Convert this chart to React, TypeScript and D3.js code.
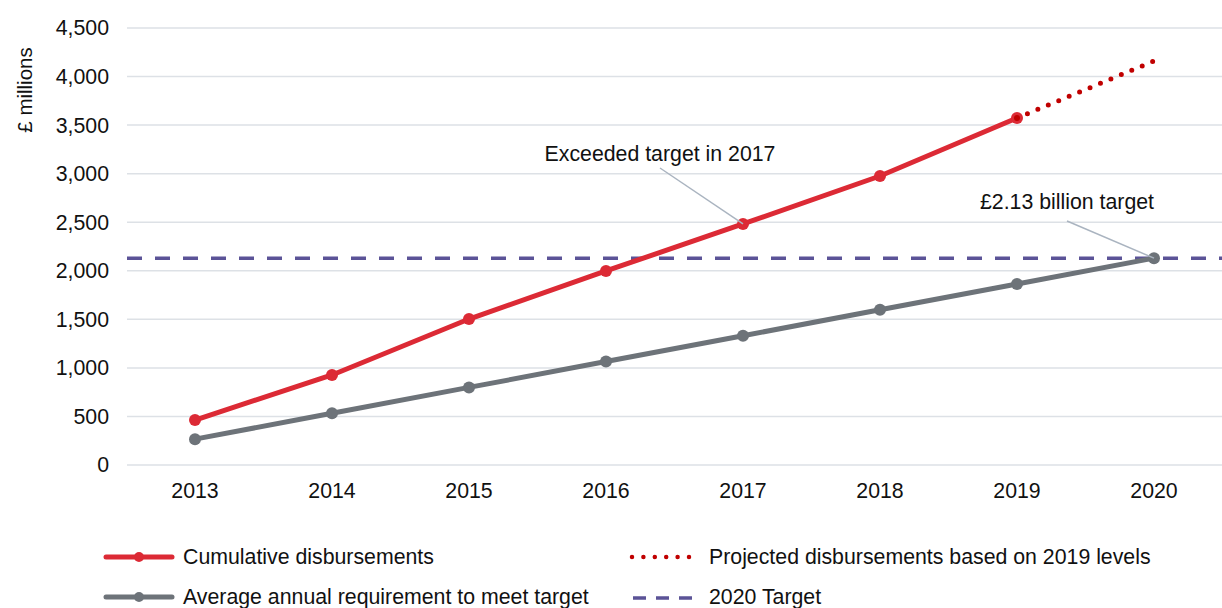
import React from "react";
import * as d3 from "d3";

const years = ["2013", "2014", "2015", "2016", "2017", "2018", "2019", "2020"];
const cumulative = [463, 927, 1503, 1998, 2482, 2976, 3573];
const projected = [3573, 4160];
const requirement = [266, 533, 799, 1065, 1331, 1598, 1864, 2130];
const target = 2130;
const yTicks = [0, 500, 1000, 1500, 2000, 2500, 3000, 3500, 4000, 4500];

const W = 1222;
const H = 608;
const FONT = "Liberation Sans, Arial, sans-serif";
const FS = 21.3;
const RED = "#dc2a35";
const DARKRED = "#c00000";
const GREY = "#6d7379";
const PURPLE = "#5b5397";
const GRID = "#dde1e6";

export default function App() {
  const x = d3.scaleBand().domain(years).range([126.5, 1222.5]);
  const cx = (yr: string) => (x(yr) as number) + x.bandwidth() / 2;
  const y = d3.scaleLinear().domain([0, 4500]).range([465, 28]);
  const line = d3
    .line<[string, number]>()
    .x((d) => cx(d[0]))
    .y((d) => y(d[1]));
  const cumPts: [string, number][] = cumulative.map((v, i) => [years[i], v]);
  const projPts: [string, number][] = projected.map((v, i) => [years[6 + i], v]);
  const reqPts: [string, number][] = requirement.map((v, i) => [years[i], v]);

  return (
    <svg
      width={W}
      height={H}
      style={{ position: "absolute", left: 0, top: 0, background: "#fff" }}
      fontFamily={FONT}
    >
      {yTicks.map((t) => (
        <g key={t}>
          <line x1={127} x2={1222} y1={y(t)} y2={y(t)} stroke={GRID} strokeWidth={1.5} />
          <text x={109} y={y(t)} dy="0.35em" textAnchor="end" fontSize={FS} fill="#111">
            {d3.format(",")(t)}
          </text>
        </g>
      ))}
      {years.map((yr) => (
        <text key={yr} x={cx(yr)} y={498} textAnchor="middle" fontSize={FS} fill="#111">
          {yr}
        </text>
      ))}
      <text
        transform={`translate(32,90) rotate(-90)`}
        textAnchor="middle"
        fontSize={20.5}
        fill="#111"
      >
        £ millions
      </text>

      <line
        x1={127}
        x2={1222}
        y1={y(target)}
        y2={y(target)}
        stroke={PURPLE}
        strokeWidth={3.5}
        strokeDasharray="15 13"
      />

      <path d={line(reqPts) as string} fill="none" stroke={GREY} strokeWidth={5} />
      {reqPts.map((d) => (
        <circle key={d[0]} cx={cx(d[0])} cy={y(d[1])} r={6} fill={GREY} />
      ))}

      <path
        d={line(projPts) as string}
        fill="none"
        stroke={DARKRED}
        strokeWidth={5}
        strokeLinecap="round"
        strokeDasharray="0 11.3"
      />
      <path d={line(cumPts) as string} fill="none" stroke={RED} strokeWidth={5} />
      {cumPts.map((d) => (
        <circle key={d[0]} cx={cx(d[0])} cy={y(d[1])} r={6} fill={RED} />
      ))}
      <circle cx={cx("2019")} cy={y(3573)} r={3} fill={DARKRED} />

      <line x1={660} y1={168} x2={cx("2017")} y2={y(2482)} stroke="#aab4c0" strokeWidth={1.5} />
      <text x={660} y={161} textAnchor="middle" fontSize={FS} fill="#111">
        Exceeded target in 2017
      </text>
      <line x1={1067} y1={221} x2={cx("2020")} y2={y(2130)} stroke="#aab4c0" strokeWidth={1.5} />
      <text x={1067} y={209} textAnchor="middle" fontSize={FS} fill="#111">
        £2.13 billion target
      </text>

      {/* legend */}
      <line x1={106} x2={172} y1={557} y2={557} stroke={RED} strokeWidth={5} strokeLinecap="round" />
      <circle cx={139} cy={557} r={5} fill={RED} />
      <text x={183} y={557} dy="0.35em" fontSize={FS} fill="#111">
        Cumulative disbursements
      </text>
      <line x1={106} x2={172} y1={597} y2={597} stroke={GREY} strokeWidth={5} strokeLinecap="round" />
      <circle cx={139} cy={597} r={5} fill={GREY} />
      <text x={183} y={597} dy="0.35em" fontSize={FS} fill="#111">
        Average annual requirement to meet target
      </text>
      <line
        x1={632}
        x2={690}
        y1={557}
        y2={557}
        stroke={DARKRED}
        strokeWidth={4.5}
        strokeLinecap="round"
        strokeDasharray="0 11.4"
      />
      <text x={709} y={557} dy="0.35em" fontSize={FS} fill="#111">
        Projected disbursements based on 2019 levels
      </text>
      <line
        x1={633}
        x2={692}
        y1={598}
        y2={598}
        stroke={PURPLE}
        strokeWidth={3.5}
        strokeDasharray="13 10"
      />
      <text x={709} y={597} dy="0.35em" fontSize={FS} fill="#111">
        2020 Target
      </text>
    </svg>
  );
}
